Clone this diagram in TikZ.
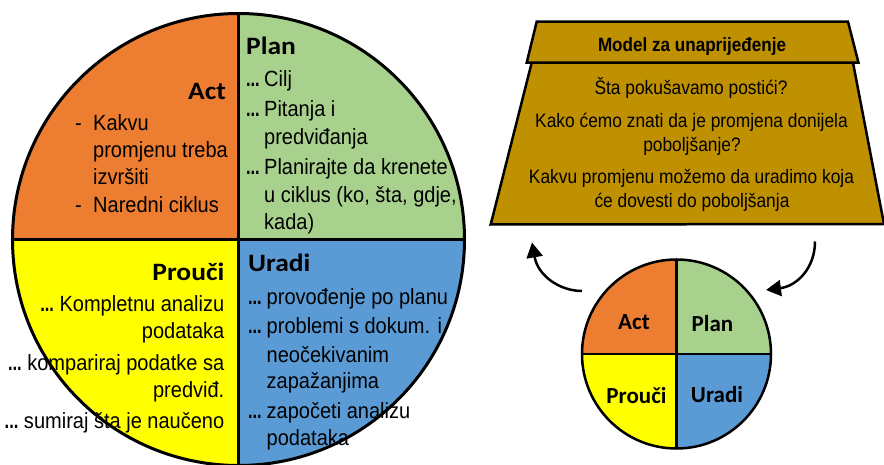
\documentclass[tikz,border=0pt]{standalone}
\usepackage{fontspec}
\setmainfont{Liberation Sans}
\newfontfamily\bodyfont[FakeStretch=0.91]{Liberation Sans}
\newfontfamily\tzfont[FakeStretch=0.89]{Liberation Sans}
\newfontfamily\dotfont[FakeStretch=0.75]{Liberation Sans}
\newfontfamily\headfont[FakeStretch=1.1]{Carlito}
\newfontfamily\labfont{Carlito}
\usetikzlibrary{arrows.meta}
\definecolor{actc}{HTML}{ED7D31}
\definecolor{planc}{HTML}{A9D18E}
\definecolor{prouc}{HTML}{FFFF00}
\definecolor{urac}{HTML}{5B9BD5}
\definecolor{goldc}{HTML}{BF9000}
\newcommand\pdots{{\dotfont\bfseries ...}}
\begin{document}
\begin{tikzpicture}[x=1pt,y=-1pt,
  txt/.style={inner sep=0pt, font=\bodyfont\fontsize{22}{26}\selectfont},
  dts/.style={inner sep=0pt, font=\dotfont\bfseries\fontsize{22}{26}\selectfont},
  hd/.style={inner sep=0pt, font=\headfont\bfseries\fontsize{25}{30}\selectfont},
  lab/.style={inner sep=0pt, font=\labfont\bfseries\fontsize{23}{28}\selectfont},
  tz/.style={inner sep=0pt, font=\tzfont\fontsize{19.5}{24}\selectfont},
  tzh/.style={inner sep=0pt, font=\tzfont\bfseries\fontsize{19.2}{22}\selectfont},
  outline/.style={line width=3pt},
  cyclearrow/.style={line width=2.5pt, -{Triangle[length=15pt,width=16pt]}},
  trap/.style={fill=goldc, draw=black, line width=2.5pt, line join=miter}]
\useasboundingbox (0,0) rectangle (884,465);

% ---- large PDCA wheel ----
\coordinate (C) at (238.5,239.5);
\begin{scope}
  \clip (C) circle[radius=226pt];
  \fill[actc]  (C) rectangle (0,0);
  \fill[planc] (C) rectangle (480,0);
  \fill[urac]  (C) rectangle (480,480);
  \fill[prouc] (C) rectangle (0,480);
\end{scope}
\draw[outline] (238.5,13.5) -- (238.5,465.5);
\draw[outline] (12.5,239.5) -- (464.5,239.5);
\draw[outline] (C) circle[radius=226pt];

% Act
\node[hd, anchor=base east] (actH) at (226,100) {Act};
\node[txt, anchor=base west] (a1d) at (75,131) {-};
\node[txt, anchor=base west] (a1) at (93,131) {Kakvu};
\node[txt, anchor=base west] (a2) at (93,157.5) {promjenu treba};
\node[txt, anchor=base west] (a3) at (93,185) {izvršiti};
\node[txt, anchor=base west] (a4d) at (75,213) {-};
\node[txt, anchor=base west] (a4) at (93,213) {Naredni ciklus};

% Plan
\node[hd, anchor=base west] (planH) at (246,55) {Plan};
\node[dts, anchor=base east] (p1d) at (260,87) {...};
\node[txt, anchor=base west] (p1) at (264,87) {Cilj};
\node[dts, anchor=base east] (p2d) at (260,116.5) {...};
\node[txt, anchor=base west] (p2) at (264,116.5) {Pitanja i};
\node[txt, anchor=base west] (p3) at (264,145) {predviđanja};
\node[dts, anchor=base east] (p4d) at (260,175) {...};
\node[txt, anchor=base west] (p4) at (264,175) {Planirajte da krenete};
\node[txt, anchor=base west] (p5) at (264,203) {u ciklus (ko, šta, gdje,};
\node[txt, anchor=base west] (p6) at (264,230) {kada)};

% Prouči
\node[hd, anchor=base east] (prH) at (224.5,280) {Prouči};
\node[txt, anchor=base east] (s1) at (224.5,312) {\pdots\ Kompletnu analizu};
\node[txt, anchor=base east] (s2) at (224.5,338) {podataka};
\node[txt, anchor=base east] (s3) at (224.5,370) {\pdots\ kompariraj podatke sa};
\node[txt, anchor=base east] (s4) at (224.5,397) {predviđ.};
\node[txt, anchor=base east] (s5) at (224.5,428) {\pdots\ sumiraj šta je naučeno};

% Uradi
\node[hd, anchor=base west] (urH) at (248,272) {Uradi};
\node[dts, anchor=base east] (u1d) at (262,305) {...};
\node[txt, anchor=base west] (u1) at (266.5,305) {provođenje po planu};
\node[dts, anchor=base east] (u2d) at (262,333) {...};
\node[txt, anchor=base west] (u2) at (266.5,333) {problemi s dokum. i};
\node[txt, anchor=base west] (u3) at (266.5,362) {neočekivanim};
\node[txt, anchor=base west] (u4) at (266.5,388) {zapažanjima};
\node[dts, anchor=base east] (u5d) at (262,418) {...};
\node[txt, anchor=base west] (u5) at (266.5,418) {započeti analizu};
\node[txt, anchor=base west] (u6) at (266.5,445) {podataka};

% ---- model for improvement ----
\draw[trap] (490.7,224.5) -- (531.7,62.7) -- (853,62.7) -- (884,224) -- cycle;
\draw[trap] (536.7,21.7) -- (848,21.7) -- (858.5,62.7) -- (526.7,62.7) -- cycle;
\node[tzh, anchor=base] (mH) at (692,51.7) {Model za unaprijeđenje};
\node[tz, anchor=base] (q1) at (691,95) {Šta pokušavamo postići?};
\node[tz, anchor=base] (q2a) at (691.5,127.3) {Kako ćemo znati da je promjena donijela};
\node[tz, anchor=base] (q2b) at (692,151.5) {poboljšanje?};
\node[tz, anchor=base] (q3a) at (691.5,183.3) {Kakvu promjenu možemo da uradimo koja};
\node[tz, anchor=base] (q3b) at (692,207.3) {će dovesti do poboljšanja};

% ---- small PDCA wheel ----
\coordinate (S) at (676.5,354);
\begin{scope}
  \clip (S) circle[radius=94.5pt];
  \fill[actc]  (S) rectangle (570,250);
  \fill[planc] (S) rectangle (780,250);
  \fill[urac]  (S) rectangle (780,460);
  \fill[prouc] (S) rectangle (570,460);
\end{scope}
\draw[line width=2.5pt] (676.5,259.5) -- (676.5,448.5);
\draw[line width=2.5pt] (582,354) -- (771,354);
\draw[line width=2.5pt] (S) circle[radius=94.5pt];
\node[lab, anchor=base] (sAct) at (634,330) {Act};
\node[lab, anchor=base] (sPlan) at (712.5,331.5) {Plan};
\node[lab, anchor=base] (sPro) at (636.5,403) {Prouči};
\node[lab, anchor=base] (sUr) at (717,402.5) {Uradi};

% ---- cycle arrows ----
\coordinate (la0) at (582,291);
\coordinate (la1) at (532,242.5);
\coordinate (ra0) at (815,241.5);
\coordinate (ra1) at (766,290);
\draw[cyclearrow] (la0) .. controls (560,291) and (538,276) .. (la1);
\draw[cyclearrow] (ra0) .. controls (815,268) and (797,286) .. (ra1);
\end{tikzpicture}
\end{document}
